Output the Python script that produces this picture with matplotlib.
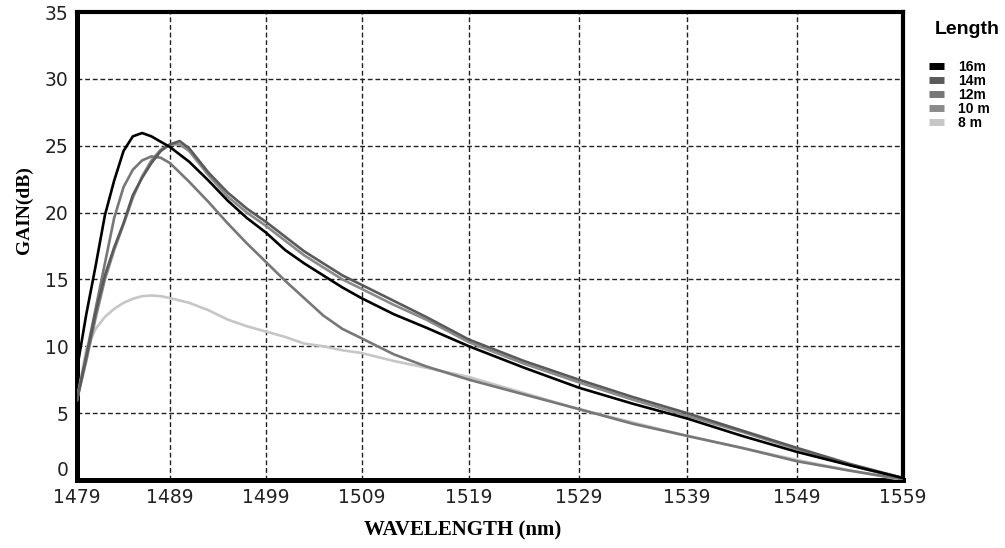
import matplotlib
matplotlib.use("Agg")
import matplotlib.pyplot as plt
from matplotlib.lines import Line2D
import numpy as np

# valores
wl_ticks = [1479, 1489, 1499, 1509, 1519, 1529, 1539, 1549, 1559]
# la escala horizontal del original no es uniforme (posicion relativa de cada tick)
tick_pos = [0, 93, 189, 284.5, 392, 502, 610, 720, 826]
gain_ticks = [0, 5, 10, 15, 20, 25, 30, 35]

wl_16 = [1479, 1480, 1481, 1482, 1483, 1484, 1485, 1486, 1487, 1488, 1489, 1491, 1493, 1495, 1497, 1499,
         1501, 1503, 1505, 1507, 1509, 1512, 1515, 1519, 1524, 1529, 1534, 1539, 1544, 1549, 1554, 1559]
gain_16 = [8.3, 12.4, 16.0, 19.8, 22.4, 24.6, 25.7, 25.95, 25.7, 25.3, 24.9, 23.8, 22.4, 20.9, 19.6, 18.5,
           17.2, 16.2, 15.3, 14.4, 13.6, 12.4, 11.4, 10.0, 8.4, 6.9, 5.7, 4.6, 3.3, 2.1, 1.1, 0.15]

wl_14 = [1479, 1480, 1481, 1482, 1483, 1484, 1485, 1486, 1487, 1488, 1489, 1490, 1491, 1493, 1495, 1497, 1499,
         1501, 1503, 1505, 1507, 1509, 1512, 1515, 1519, 1524, 1529, 1534, 1539, 1544, 1549, 1554, 1559]
gain_14 = [6.0, 9.2, 12.5, 15.3, 17.4, 19.2, 21.3, 22.6, 23.7, 24.6, 25.1, 25.35, 24.8, 23.0, 21.5, 20.3, 19.3,
           18.2, 17.1, 16.2, 15.3, 14.6, 13.4, 12.2, 10.5, 8.9, 7.5, 6.2, 5.0, 3.7, 2.4, 1.2, 0.15]

wl_12 = [1479, 1480, 1481, 1482, 1483, 1484, 1485, 1486, 1487, 1488, 1489, 1491, 1493, 1495, 1497, 1499,
         1501, 1503, 1505, 1507, 1509, 1512, 1515, 1519, 1524, 1529, 1534, 1539, 1544, 1549, 1554, 1559]
gain_12 = [6.0, 9.4, 12.8, 16.2, 19.6, 21.9, 23.2, 23.9, 24.2, 24.1, 23.7, 22.3, 20.8, 19.2, 17.7, 16.3,
           14.9, 13.6, 12.3, 11.3, 10.6, 9.4, 8.5, 7.5, 6.4, 5.3, 4.2, 3.3, 2.4, 1.4, 0.7, 0.05]

wl_10 = [1479, 1480, 1481, 1482, 1483, 1484, 1485, 1486, 1487, 1488, 1489, 1490, 1491, 1493, 1495, 1497, 1499,
         1501, 1503, 1505, 1507, 1509, 1512, 1515, 1519, 1524, 1529, 1534, 1539, 1544, 1549, 1554, 1559]
gain_10 = [6.0, 8.9, 12.1, 15.0, 17.2, 19.1, 21.1, 22.7, 23.9, 24.7, 25.1, 25.1, 24.6, 22.8, 21.2, 20.0, 19.0,
           17.9, 16.8, 15.9, 15.0, 14.3, 13.1, 12.0, 10.3, 8.7, 7.3, 6.0, 4.8, 3.6, 2.3, 1.1, 0.1]

wl_8 = [1479, 1480, 1481, 1482, 1483, 1484, 1485, 1486, 1487, 1488, 1489, 1491, 1493, 1495, 1497, 1499,
        1501, 1503, 1505, 1507, 1509, 1512, 1515, 1519, 1524, 1529, 1534, 1539, 1544, 1549, 1554, 1559]
gain_8 = [6.0, 9.8, 11.3, 12.2, 12.8, 13.25, 13.55, 13.75, 13.8, 13.75, 13.6, 13.25, 12.7, 12.0, 11.5, 11.1,
          10.7, 10.2, 10.0, 9.7, 9.5, 8.9, 8.4, 7.7, 6.5, 5.3, 4.3, 3.3, 2.4, 1.5, 0.7, 0.0]

labels = ["16m", "14m", "12m", "10 m", "8 m"]
colores = ["#000000", "#5a5a5a", "#777777", "#8a8a8a", "#c6c6c6"]


def forward(x):
    return np.interp(x, wl_ticks, tick_pos)


def inverse(p):
    return np.interp(p, tick_pos, wl_ticks)


fig = plt.figure(figsize=(10.05, 5.48), dpi=100)
ax = fig.add_axes([77 / 1005, 1 - 480 / 548, 826 / 1005, 468 / 548])
ax.set_xscale("function", functions=(forward, inverse))

series = [(wl_16, gain_16), (wl_14, gain_14), (wl_12, gain_12), (wl_10, gain_10), (wl_8, gain_8)]
# dibujar del mas claro al mas oscuro para que el negro quede encima
for i in [4, 3, 2, 1, 0]:
    x, y = series[i]
    ax.plot(x, y, color=colores[i], lw=1.9, solid_joinstyle="round", zorder=3 + (4 - i) * 0.1)

ax.set_xlim(1479, 1559)
ax.set_ylim(0, 35)
ax.set_xticks(wl_ticks)
ax.set_xticklabels([str(t) for t in wl_ticks])
ax.set_yticks(gain_ticks)
ax.minorticks_off()
ax.tick_params(length=0, labelsize=13.5, labelcolor="#222222", pad=6)
# el "0" queda por encima de la linea, como en el original
ax.get_yticklabels()[0].set_va("bottom")
ax.grid(True, color="#222222", linestyle=(0, (3.5, 2)), linewidth=1.0)

for s in ["left", "bottom"]:
    ax.spines[s].set_linewidth(3.6)
for s in ["top", "right"]:
    ax.spines[s].set_linewidth(3.0)

ax.set_xlabel("WAVELENGTH (nm)", fontfamily="Liberation Serif", fontweight="bold", fontsize=15)
ax.xaxis.label.set_va("center")
ax.xaxis.set_label_coords(0.467, -0.107)
ax.set_ylabel("GAIN(dB)", fontfamily="Liberation Serif", fontweight="bold", fontsize=14)
ax.yaxis.label.set_va("center")
ax.yaxis.set_label_coords(-0.064, 0.577)

# leyenda
fig.text(935 / 1005, 1 - 29 / 548, "Length", fontfamily="Liberation Sans", fontweight="bold",
         fontsize=14, ha="left", va="center")
handles = [Line2D([], [], color=c, lw=5, solid_capstyle="butt") for c in colores]
fig.legend(handles, labels, loc="upper left", bbox_to_anchor=(929 / 1005, 1 - 60 / 548),
           frameon=False, handlelength=1.1, handletextpad=1.0, labelspacing=0.0,
           borderpad=0, borderaxespad=0,
           prop={"family": "Liberation Sans", "weight": "bold", "size": 10})

fig.savefig("out.png", dpi=100)
